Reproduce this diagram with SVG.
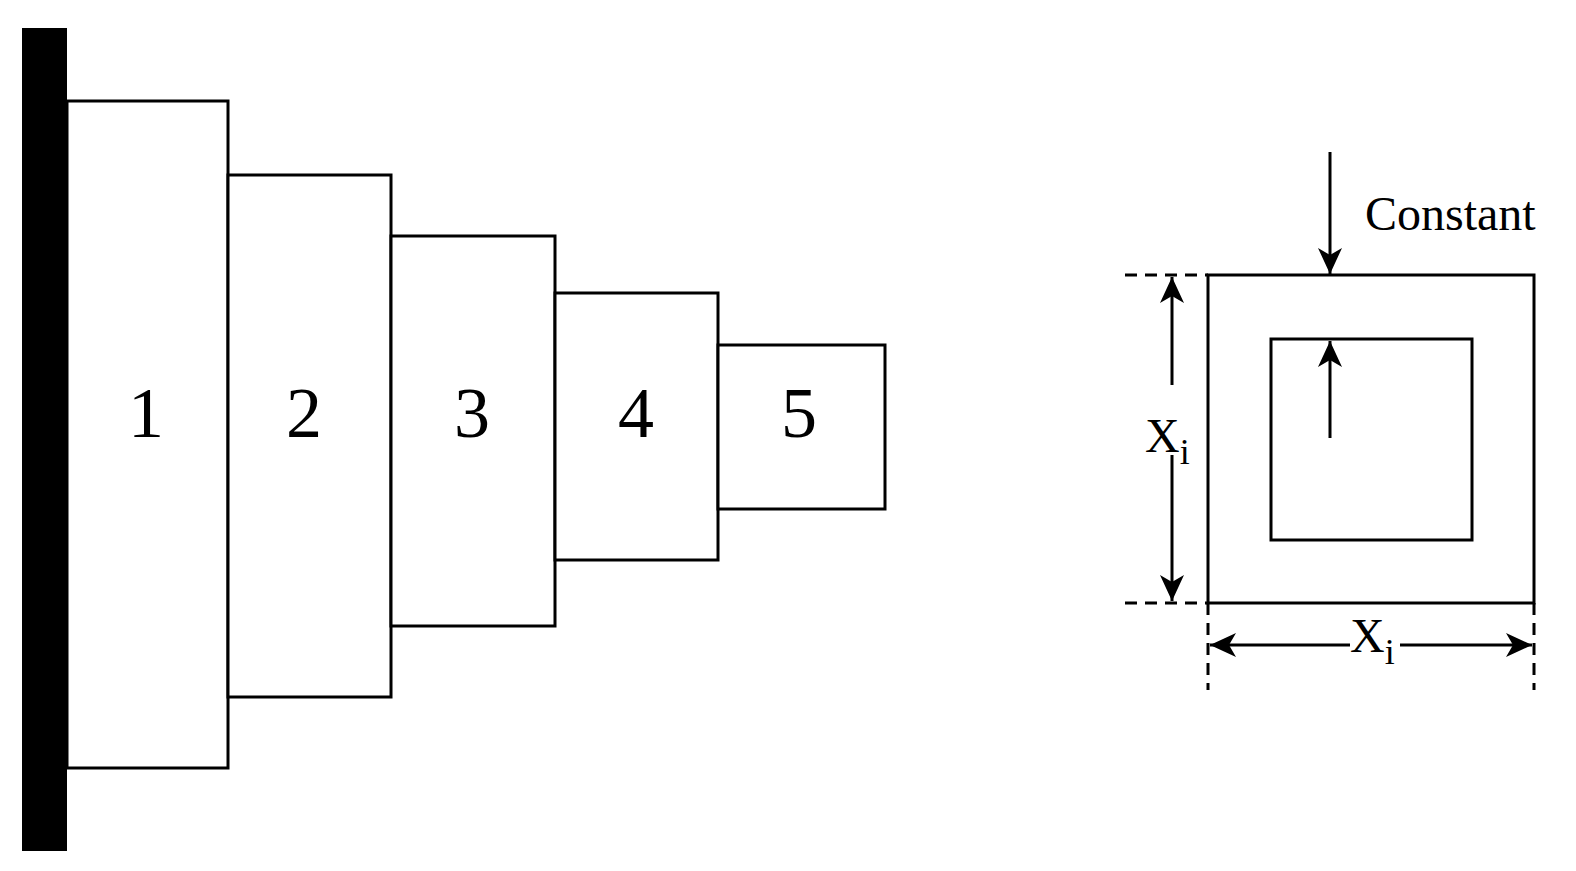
<svg xmlns="http://www.w3.org/2000/svg" width="1576" height="871" viewBox="0 0 1576 871">
<style>
.b{fill:#fff;stroke:#000;stroke-width:3}
.n{font-family:"Liberation Serif",serif;font-size:72px;text-anchor:middle}
.l{stroke:#000;stroke-width:3;fill:none}
.d{stroke:#000;stroke-width:3;stroke-dasharray:12,8;fill:none}
.t{font-family:"Liberation Serif",serif;font-size:48px}
</style>
<defs><marker id="a" viewBox="0 0 26 24" refX="26" refY="12" markerWidth="26" markerHeight="24" markerUnits="userSpaceOnUse" orient="auto-start-reverse"><path d="M0,0 L26,12 L0,24 L7,12 Z"/></marker></defs>
<rect id="wall" x="22" y="28" width="45" height="823" fill="#000"/>
<g id="s1"><rect class="b" x="67" y="101" width="161" height="667"/><text class="n" x="146" y="437">1</text></g>
<g id="s2"><rect class="b" x="228" y="175" width="163" height="522"/><text class="n" x="304" y="437">2</text></g>
<g id="s3"><rect class="b" x="391" y="236" width="164" height="390"/><text class="n" x="472" y="437">3</text></g>
<g id="s4"><rect class="b" x="555" y="293" width="163" height="267"/><text class="n" x="636" y="437">4</text></g>
<g id="s5"><rect class="b" x="718" y="345" width="167" height="164"/><text class="n" x="799" y="437">5</text></g>
<g id="section">
<rect class="b" x="1208" y="275" width="326" height="328"/>
<rect class="b" x="1271" y="339" width="201" height="201"/>
<text class="t" x="1365" y="230">Constant</text>
<text class="t" x="1145" y="452">X<tspan font-size="36" dy="12">i</tspan></text>
<text class="t" x="1350" y="652">X<tspan font-size="36" dy="12">i</tspan></text>
</g>
<g id="connectors">
<line class="l" x1="1330" y1="152" x2="1330" y2="274" marker-end="url(#a)"/>
<line class="l" x1="1330" y1="438" x2="1330" y2="341" marker-end="url(#a)"/>
<line class="l" x1="1172" y1="385" x2="1172" y2="277" marker-end="url(#a)"/>
<line class="l" x1="1172" y1="455" x2="1172" y2="601" marker-end="url(#a)"/>
<line class="l" x1="1350" y1="645" x2="1210" y2="645" marker-end="url(#a)"/>
<line class="l" x1="1400" y1="645" x2="1532" y2="645" marker-end="url(#a)"/>
<line class="d" x1="1125" y1="275" x2="1208" y2="275"/>
<line class="d" x1="1125" y1="603" x2="1208" y2="603"/>
<line class="d" x1="1208" y1="603" x2="1208" y2="690"/>
<line class="d" x1="1534" y1="603" x2="1534" y2="690"/>
</g>
</svg>
